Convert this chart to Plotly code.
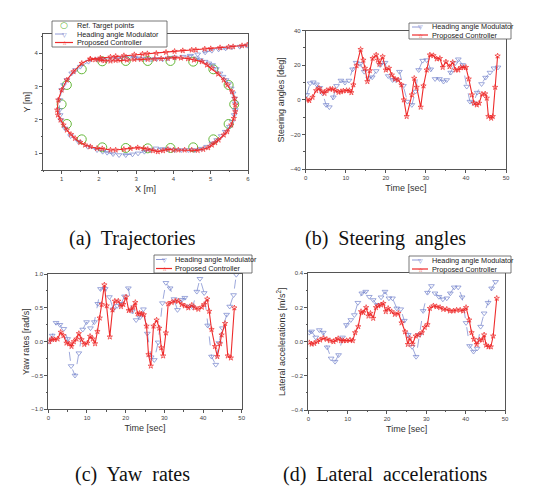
import plotly.graph_objects as go

# ---------------- data ----------------
# (a) trajectories
ref_x = [1.0, 1.14, 1.54, 2.09, 2.72, 3.31, 3.92, 4.53, 5.07, 5.48, 5.63, 5.48, 5.07, 4.53, 3.92, 3.31, 2.72, 2.09, 1.54, 1.14]
ref_y = [2.47, 3.05, 3.52, 3.76, 3.77, 3.77, 3.77, 3.75, 3.52, 3.05, 2.47, 1.88, 1.42, 1.18, 1.16, 1.15, 1.16, 1.18, 1.42, 1.88]

mod_x = [5.98, 5.78, 5.57, 5.4, 5.21, 5.03, 4.85, 4.65, 4.45,
         4.25, 4.03, 3.85, 3.71, 3.55, 3.4, 3.25, 3.08, 2.95, 2.81, 2.65, 2.49, 2.35, 2.22, 2.08, 1.95, 1.72,
         1.5, 1.37, 1.27, 1.14, 1.05, 1.0, 0.95, 0.94, 0.96, 0.98, 1.09, 1.24, 1.45, 1.7, 1.95, 2.1, 2.22, 2.38,
         2.54, 2.72, 2.9, 3.05, 3.22, 3.38, 3.53, 3.7, 3.85, 4.03, 4.21, 4.4, 4.57, 4.75, 4.89, 5.03, 5.16,
         5.28, 5.39, 5.5, 5.57, 5.63, 5.66, 5.66, 5.64, 5.6, 5.55, 5.48, 5.41, 5.33, 5.25, 5.15, 5.05, 4.95,
         4.85, 4.72, 4.62]
mod_y = [4.23, 4.2, 4.18, 4.15, 4.12, 4.08, 4.03, 3.97, 3.93,
         3.9, 3.88, 3.85, 3.82, 3.83, 3.82, 3.84, 3.85, 3.87, 3.88, 3.86, 3.85, 3.83, 3.82, 3.82, 3.82, 3.75,
         3.6, 3.5, 3.4, 3.2, 3.05, 2.9, 2.6, 2.3, 2.15, 2.0, 1.75, 1.52, 1.35, 1.2, 1.1, 1.05, 1.02, 0.98,
         0.95, 0.95, 0.97, 1.0, 1.05, 1.1, 1.15, 1.13, 1.12, 1.1, 1.1, 1.1, 1.1, 1.14, 1.2, 1.3, 1.4,
         1.52, 1.65, 1.8, 1.95, 2.15, 2.3, 2.5, 2.65, 2.8, 2.95, 3.08, 3.2, 3.3, 3.4, 3.53, 3.65, 3.7,
         3.75, 3.8, 3.85]

prop_x = [5.98, 5.84, 5.6, 5.48, 5.25, 5.0, 4.84, 4.6, 4.49, 4.25, 4.03, 3.8, 3.54, 3.3, 3.17, 2.95, 2.67,
          2.45, 2.31, 2.04, 1.77,
          1.54, 1.32, 1.14, 1.0, 0.91, 0.88, 0.9, 0.97, 1.05, 1.14, 1.25, 1.36, 1.5, 1.63, 1.77, 1.95, 2.09,
          2.31, 2.45, 2.67, 2.85, 3.04, 3.2, 3.31, 3.45, 3.58, 3.72, 3.85, 4.0, 4.13, 4.3, 4.49, 4.65, 4.8,
          4.93, 5.03, 5.12, 5.21, 5.35, 5.44, 5.55, 5.62, 5.66, 5.66, 5.64, 5.57, 5.45, 5.35, 5.2, 5.03, 4.9,
          4.76, 4.55, 4.39, 4.2, 4.03, 3.85, 3.67, 3.5, 3.31, 3.13, 2.95, 2.75, 2.58, 2.45, 2.31, 2.15, 2.04,
          1.9, 1.77]
prop_y = [4.25, 4.23, 4.2, 4.19, 4.17, 4.14, 4.13, 4.1, 4.1, 4.08, 4.06, 4.03, 4.0, 3.99, 3.98, 3.96, 3.93,
          3.91, 3.89, 3.86, 3.83,
          3.7, 3.45, 3.2, 2.9, 2.6, 2.3, 2.15, 2.0, 1.85, 1.7, 1.57, 1.45, 1.33, 1.25, 1.2, 1.15, 1.14,
          1.1, 1.1, 1.12, 1.15, 1.17, 1.15, 1.12, 1.08, 1.05, 1.08, 1.12, 1.1, 1.1, 1.1, 1.1, 1.09, 1.12,
          1.17, 1.25, 1.32, 1.4, 1.55, 1.65, 1.85, 2.05, 2.25, 2.45, 2.65, 2.85, 3.05, 3.2, 3.38, 3.55, 3.65,
          3.75, 3.8, 3.84, 3.86, 3.87, 3.85, 3.84, 3.83, 3.82, 3.82, 3.82, 3.8, 3.8, 3.79, 3.77, 3.78, 3.8,
          3.81, 3.82]

# (b) steering angles [deg]
steer_mod_t = [0.25, 1.1, 1.9, 2.7, 3.5, 4.2, 5.1, 5.9, 6.9, 7.7, 8.8, 9.8, 10.8, 11.7, 12.6, 13.6, 14.6,
               15.7, 16.6, 17.6, 18.6, 19.8, 20.6, 21.7, 22.5, 23.4, 24.4, 25.4, 26.5, 27.4, 28.2, 29.2,
               30.2, 31.2, 32.3, 33.4, 34.4, 35.2, 36.2, 37.3, 38.1, 39.2, 40.2, 41.0, 41.9, 42.8, 43.9,
               44.9, 46.0, 47.0, 48.0]
steer_mod_v = [2.9, 9.6, 10.2, 9, 7, 3.8, -2.9, -4.2, 1.5, 8.1, 11.2, 10, 11.2, 17.7, 21.5, 20.8, 16.3,
               12.5, 13.1, 16.7, 20.2, 21.5, 13.8, 11.5, 11.5, 16.3, 8.1, -1, -2.9, 4.8, 17.3, 22.7,
               23, 17.7, 12.1, 12.1, 10.6, 11.5, 15.8, 21.2, 23.5, 20.2, 7.7, -1, -1.9, 4.2, 9.2,
               12.9, 15.8, 18.3, 18.8]
steer_prop_t = [0.25, 0.9, 1.7, 2.6, 3.3, 4.0, 4.7, 5.2, 6.1, 6.7, 7.4, 8.2, 8.8, 9.4, 10.2, 10.9, 11.4,
                11.9, 12.7, 13.7, 14.4, 14.8, 15.4, 16.0, 16.7, 17.6, 18.0, 18.4, 19.2, 20.0, 20.8, 21.5,
                22.3, 23.1, 23.9, 24.5, 25.2, 26.5, 27.1, 27.7, 28.7, 29.4, 30.2, 31.0, 31.9, 32.7, 33.5,
                34.2, 35.0, 35.9, 36.7, 37.4, 38.1, 38.7, 39.4, 40.0, 40.7, 41.5, 42.0, 42.7, 43.3, 44.0,
                44.8, 45.2, 45.6, 46.3, 46.7, 47.3, 47.9]
steer_prop_v = [0, -0.4, 1.5, 5.4, 6.7, 4.8, 3.8, 5.4, 6.2, 6.2, 5.4, 4.4, 4.8, 5.2, 5.4, 5.4, 4.2,
                8.7, 19.8, 29.2, 23, 18.3, 10.6, 16.9, 24, 26, 23, 20.6, 25, 17.3, 18.3, 14.4,
                12.1, 11.5, 8.7, 0, -9.6, 2.9, 12.5, 7.3, -4.2, 8.1, 17.3, 26, 25.6, 23.7, 24,
                18.8, 22, 19.2, 21.7, 17.3, 17.3, 18.7, 18.7, 18.8, 12.1, 2.9, -1.9, -2.9, -1.9, 3.3,
                3.5, 1, -9.6, -10.6, -9.6, 7.3, 25.4]

# (c) yaw rates [rad/s]
yaw_mod_t = [0.26, 1.0, 2.0, 3.0, 4.0, 5.0, 5.9, 6.9, 7.9, 8.9, 9.9, 10.9, 11.9, 12.8, 13.5, 14.7, 15.8,
             16.8, 17.8, 18.8, 19.7, 20.7, 21.7, 22.7, 23.7, 24.6, 25.6, 26.6, 27.4, 28.4, 29.5, 30.4,
             31.5, 32.5, 33.4, 34.5, 35.3, 36.4, 37.3, 38.4, 39.2, 40.3, 41.2, 42.2, 43.3, 44.1, 45.0,
             46.1, 46.9, 47.9, 48.6]
yaw_mod_v = [0, 0.09, 0.28, 0.25, 0.19, 0.04, -0.36, -0.5, -0.17, 0.18, 0.29, 0.2, 0.29, 0.56, 0.78, 0.78,
             0.66, 0.48, 0.53, 0.56, 0.67, 0.79, 0.45, 0.32, 0.36, 0.48, 0.12, -0.23, -0.27, -0.01, 0.57,
             0.87, 0.79, 0.63, 0.47, 0.62, 0.65, 0.52, 0.51, 0.74, 0.93, 0.72, 0.24, -0.22, -0.34, -0.02,
             0.2, 0.4, 0.52, 0.69, 0.99]
yaw_prop_t = [0.26, 0.9, 1.6, 2.4, 3.2, 3.9, 4.7, 5.4, 6.0, 6.6, 7.3, 7.9, 8.6, 9.3, 10.1, 10.8, 11.5,
              12.1, 12.7, 13.3, 13.8, 14.5, 15.1, 15.9, 16.6, 17.2, 18.1, 18.8, 19.4, 20.1, 20.8, 21.4,
              22.0, 22.5, 23.1, 23.6, 24.1, 24.7, 25.4, 25.9, 26.5, 27.2, 28.0, 28.7, 29.2, 29.7, 30.4,
              31.0, 31.9, 32.8, 33.6, 34.5, 35.3, 36.2, 37.1, 37.9, 38.8, 39.7, 40.3, 41.1, 41.6, 42.2,
              43.1, 43.7, 44.4, 44.8, 45.7, 46.4, 47.2, 48.1]
yaw_prop_v = [0, 0.04, 0.03, 0.04, 0.14, 0.09, -0.02, -0.03, -0.07, 0, 0.04, 0.12, 0.03, -0.04, -0.02,
              0.08, 0.04, -0.03, 0.15, 0.35, 0.55, 0.84, 0.53, 0.07, 0.47, 0.6, 0.6, 0.52, 0.55, 0.66,
              0.46, 0.47, 0.51, 0.58, 0.41, 0.42, 0.41, 0.4, 0.23, -0.19, -0.36, 0.23, 0.32, 0.2, -0.09,
              -0.21, 0.13, 0.56, 0.58, 0.6, 0.6, 0.55, 0.53, 0.5, 0.54, 0.5, 0.48, 0.51, 0.55, 0.63,
              0.45, 0.18, -0.07, -0.22, -0.03, 0.1, 0.27, -0.21, -0.24, 0.5]

# (d) lateral accelerations [m/s^2]
lat_mod_t = [0.25, 0.85, 1.9, 2.8, 3.8, 4.8, 5.8, 6.8, 7.7, 8.7, 9.7, 10.8, 11.7, 12.6, 13.6, 14.6, 15.5,
             16.5, 17.5, 18.5, 19.5, 20.5, 21.4, 22.5, 23.5, 24.4, 25.4, 26.4, 27.4, 28.3, 29.2, 30.3,
             31.3, 32.2, 33.2, 34.2, 35.2, 36.1, 37.1, 38.1, 39.1, 40.1, 41.0, 42.0, 42.9, 43.8, 44.7,
             45.7, 46.6, 47.6]
lat_mod_v = [0.053, 0.06, 0.025, 0.068, 0.053, -0.033, -0.098, -0.117, -0.078, 0.025, 0.098, 0.127,
             0.156, 0.228, 0.283, 0.293, 0.263, 0.244, 0.215, 0.26, 0.293, 0.254, 0.254, 0.195, 0.19,
             0.123, 0.04, -0.03, -0.088, 0.04, 0.18, 0.287, 0.326, 0.283, 0.263, 0.248, 0.254, 0.283,
             0.318, 0.318, 0.26, 0.11, -0.025, -0.058, -0.04, 0.088, 0.166, 0.228, 0.312, 0.35]
lat_prop_t = [0.25, 0.85, 1.5, 2.3, 3.0, 3.8, 4.7, 5.5, 6.4, 7.0, 7.6, 8.3, 8.9, 9.7, 10.6, 11.3, 11.9,
              12.7, 13.4, 14.0, 14.7, 15.3, 15.8, 16.5, 17.2, 17.8, 18.5, 19.1, 19.7, 20.3, 21.2, 22.0,
              22.9, 23.7, 24.6, 25.3, 25.8, 26.5, 27.3, 28.1, 28.9, 29.6, 30.3, 30.9, 31.8, 32.6, 33.5,
              34.3, 35.2, 36.0, 36.9, 37.7, 38.6, 39.4, 40.1, 40.9, 41.5, 42.1, 42.8, 43.5, 44.2, 44.7,
              45.2, 45.8, 46.4, 47.0, 47.9]
lat_prop_v = [-0.006, -0.014, -0.01, 0, 0.01, 0.02, 0.014, 0.006, 0, 0.01, 0.018, 0.006, 0.006, 0.006,
              0.01, 0.006, 0.053, 0.088, 0.176, 0.17, 0.2, 0.15, 0.166, 0.137, 0.2, 0.21, 0.215, 0.224,
              0.176, 0.195, 0.176, 0.16, 0.166, 0.11, 0.058, -0.016, 0.02, -0.014, 0.033, 0.04, 0.053,
              0.084, 0.1, 0.195, 0.21, 0.205, 0.2, 0.19, 0.19, 0.18, 0.18, 0.185, 0.185, 0.18, 0.2,
              0.127, 0.053, 0.014, -0.016, 0.01, 0.01, 0.04, -0.02, -0.03, -0.03, 0.033, 0.254]

NAME_REF = "Ref. Target points"
NAME_MOD = "Heading angle Modulator"
NAME_PROP = "Proposed Controller"
CAPTIONS = ["(a)  Trajectories", "(b)  Steering  angles", "(c)  Yaw  rates", "(d)  Lateral  accelerations"]

# ---------------- styling ----------------
# the page body has an 8px default margin, so the figure is sized to fit inside it
OFF = 8
W, H = 537 - OFF, 500 - OFF
BLUE = "#7382cc"
RED = "#ee2b2b"
GREEN = "#66b83a"
AX = "#555555"


def PX(x):
    return (x - OFF) / W


def PY(y):
    return 1 - (y - OFF) / H


fig = go.Figure()


def add_mod(x, y, xa, ya):
    fig.add_trace(go.Scatter(x=x, y=y, xaxis=xa, yaxis=ya, mode="lines+markers", name=NAME_MOD,
                             line=dict(color=BLUE, width=0.7, dash="dash"),
                             marker=dict(symbol="triangle-down-open", size=5, color=BLUE,
                                         line=dict(width=0.7, color=BLUE)),
                             showlegend=False))


def add_prop(x, y, xa, ya):
    fig.add_trace(go.Scatter(x=x, y=y, xaxis=xa, yaxis=ya, mode="lines+markers", name=NAME_PROP,
                             line=dict(color=RED, width=1.1),
                             marker=dict(symbol="star-open", size=4, color=RED,
                                         line=dict(width=0.7, color="#f06060")),
                             showlegend=False))


fig.add_trace(go.Scatter(x=ref_x, y=ref_y, xaxis="x", yaxis="y", mode="markers", name=NAME_REF,
                         marker=dict(symbol="circle-open", size=9, color=GREEN,
                                     line=dict(width=1.0, color=GREEN)),
                         showlegend=False))
add_mod(mod_x, mod_y, "x", "y")
add_prop(prop_x, prop_y, "x", "y")
add_mod(steer_mod_t, steer_mod_v, "x2", "y2")
add_prop(steer_prop_t, steer_prop_v, "x2", "y2")
add_mod(yaw_mod_t, yaw_mod_v, "x3", "y3")
add_prop(yaw_prop_t, yaw_prop_v, "x3", "y3")
add_mod(lat_mod_t, lat_mod_v, "x4", "y4")
add_prop(lat_prop_t, lat_prop_v, "x4", "y4")

tickfont = dict(family="Liberation Sans, Arial", size=6, color="#444")
titlefont = dict(family="Liberation Sans, Arial", size=9, color="#333")


def axis(domain, anchor, rng, dtick, title, minor, standoff, fmt=None):
    d = dict(domain=domain, anchor=anchor, range=rng, dtick=dtick, tick0=0,
             showline=True, linecolor=AX, linewidth=0.8, mirror=True,
             ticks="outside", ticklen=3, tickwidth=0.7, tickcolor=AX,
             minor=dict(ticks="outside", ticklen=1.5, dtick=minor, tickcolor=AX, tickwidth=0.6),
             showgrid=False, zeroline=False, automargin=False, tickfont=tickfont,
             title=dict(text=title, font=titlefont, standoff=standoff))
    if fmt:
        d["tickformat"] = fmt
    return d


fig.update_layout(
    width=W, height=H, margin=dict(l=0, r=0, t=0, b=0),
    paper_bgcolor="white", plot_bgcolor="white", showlegend=False,
    xaxis=axis([PX(43), PX(248)], "y", [0.5, 6], 1, "X [m]", 0.5, 4),
    yaxis=axis([PY(170), PY(34.3)], "x", [0.5, 4.57], 1, "Y [m]", 0.5, 2),
    xaxis2=axis([PX(305.7), PX(506)], "y2", [0, 50], 10, "Time [sec]", 5, 4),
    yaxis2=axis([PY(169), PY(30.7)], "x2", [-40, 40], 20, "Steering angles [deg]", 10, 4),
    xaxis3=axis([PX(48.3), PX(241.7)], "y3", [0, 50], 10, "Time [sec]", 5, 4),
    yaxis3=axis([PY(409.3), PY(274)], "x3", [-1, 1], 0.5, "Yaw rates [rad/s]", 0.25, 0, ".1f"),
    xaxis4=axis([PX(308.3), PX(505)], "y4", [0, 50], 10, "Time [sec]", 5, 4),
    yaxis4=axis([PY(410), PY(273.3)], "x4", [-0.4, 0.4], 0.2,
                "Lateral accelerations [m/s<sup>2</sup>]", 0.1, 4, ".1f"),
)

# ---------------- legends (drawn as boxes with text) ----------------
shapes = []
annotations = []
legfont = dict(family="Liberation Sans, Arial", size=7.3, color="#222")


def legend(box, rows, sample, textx, items):
    x0, y0, x1, y1 = box
    shapes.append(dict(type="rect", xref="paper", yref="paper", x0=PX(x0), x1=PX(x1), y0=PY(y1), y1=PY(y0),
                       line=dict(color="#555", width=0.8), fillcolor="white", layer="above"))
    sx0, sx1 = sample
    mid = (sx0 + sx1) / 2
    for ry, (label, kind) in zip(rows, items):
        if kind == "mod":
            shapes.append(dict(type="line", xref="paper", yref="paper", x0=PX(sx0), x1=PX(sx1), y0=PY(ry),
                               y1=PY(ry), line=dict(color=BLUE, width=0.8, dash="dash"), layer="above"))
            annotations.append(dict(x=PX(mid), y=PY(ry), xref="paper", yref="paper", text="▽",
                                    showarrow=False, font=dict(family="DejaVu Sans", size=6, color=BLUE),
                                    xanchor="center", yanchor="middle"))
        elif kind == "prop":
            shapes.append(dict(type="line", xref="paper", yref="paper", x0=PX(sx0), x1=PX(sx1), y0=PY(ry),
                               y1=PY(ry), line=dict(color=RED, width=1.2), layer="above"))
            annotations.append(dict(x=PX(mid), y=PY(ry), xref="paper", yref="paper", text="☆",
                                    showarrow=False, font=dict(family="DejaVu Sans", size=6, color=RED),
                                    xanchor="center", yanchor="middle"))
        else:
            annotations.append(dict(x=PX(mid), y=PY(ry), xref="paper", yref="paper", text="○",
                                    showarrow=False, font=dict(family="DejaVu Sans", size=9, color=GREEN),
                                    xanchor="center", yanchor="middle"))
        annotations.append(dict(x=PX(textx), y=PY(ry), xref="paper", yref="paper", text=label,
                                showarrow=False, font=legfont, xanchor="left", yanchor="middle"))


legend((52, 21, 167, 47), [25.5, 34, 42.5], (55, 73), 75,
       [(NAME_REF, "ref"), (NAME_MOD, "mod"), (NAME_PROP, "prop")])
legend((409, 23, 511, 39), [27, 35], (412, 428), 430, [(NAME_MOD, "mod"), (NAME_PROP, "prop")])
legend((154, 255, 252, 273), [259.5, 268.5], (156, 172), 173, [(NAME_MOD, "mod"), (NAME_PROP, "prop")])
legend((409, 256, 511, 273), [260, 269], (412, 428), 430, [(NAME_MOD, "mod"), (NAME_PROP, "prop")])

# captions
cap_pos = [(132.5, 238), (385, 238), (132, 474), (385, 474)]
for (cx, cy), txt in zip(cap_pos, CAPTIONS):
    annotations.append(dict(x=PX(cx), y=PY(cy), xref="paper", yref="paper", text=txt, showarrow=False,
                            font=dict(family="Liberation Serif, Times New Roman", size=20, color="#111"),
                            xanchor="center", yanchor="middle"))

fig.update_layout(shapes=shapes, annotations=annotations)
fig.write_html("out.html")
